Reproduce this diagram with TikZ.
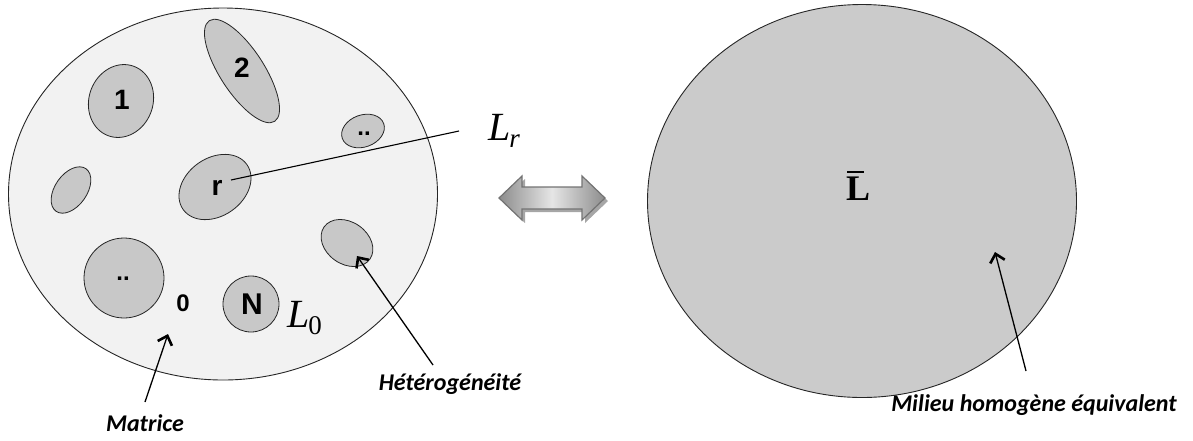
\documentclass[tikz,border=0pt]{standalone}
\usepackage{fontspec}
\setmainfont{Liberation Serif}
\newfontfamily\numfont{Liberation Sans}
\newfontfamily\capfont{Carlito}
\usetikzlibrary{shapes.geometric,arrows.meta}
\definecolor{matfill}{HTML}{F2F2F2}
\definecolor{incfill}{HTML}{C8C8C8}
\definecolor{homfill}{HTML}{CBCBCB}
\tikzset{
  inc/.style={ellipse, draw=black!85, line width=0.8pt, fill=incfill, inner sep=0pt},
  incc/.style={circle, draw=black!85, line width=0.8pt, fill=incfill, inner sep=0pt},
  numlbl/.style={font=\numfont\bfseries\fontsize{28}{28}\selectfont, inner sep=0pt},
  caplbl/.style={font=\capfont\bfseries\itshape\fontsize{24}{24}\selectfont, inner sep=0pt},
  ptr/.style={line width=1.3pt, -{Straight Barb[length=8pt,width=15pt,line width=2.6pt]}},
}
\begin{document}
\begin{tikzpicture}[x=1pt,y=-1pt]
\useasboundingbox (0,0) rectangle (1193,440);
% left heterogeneous medium
\node[ellipse, draw=black!85, line width=0.9pt, fill=matfill, minimum width=429pt, minimum height=372pt, inner sep=0pt] (mat) at (223,194) {};
\node[inc, minimum width=64pt, minimum height=74pt, rotate=-20] (i1) at (121,101) {};
\node[numlbl] at (122,100) {1};
\node[inc, minimum width=44pt, minimum height=120pt, rotate=33] (i2) at (242,71) {};
\node[numlbl] at (242,68) {2};
\node[inc, minimum width=44pt, minimum height=32pt, rotate=20] (i3) at (363,131) {};
\node[numlbl, font=\numfont\bfseries\fontsize{24}{24}\selectfont] at (364,134) {..};
\node[inc, minimum width=32pt, minimum height=52pt, rotate=-35] (i4) at (71,190) {};
\node[inc, minimum width=78pt, minimum height=58pt, rotate=35] (ir) at (215,187) {};
\node[numlbl] (rl) at (217,188) {r};
\node[incc, minimum size=80pt] (i5) at (124,278) {};
\node[numlbl, font=\numfont\bfseries\fontsize{24}{24}\selectfont] at (123,279) {..};
\node[incc, minimum size=56pt] (iN) at (251,304) {};
\node[numlbl, font=\numfont\bfseries\fontsize{30}{30}\selectfont] at (252,304) {N};
\node[inc, minimum width=56pt, minimum height=42pt, rotate=-35] (i6) at (347,243) {};
\node[numlbl, font=\numfont\bfseries\fontsize{24}{24}\selectfont] (zero) at (183,303) {0};
\node[inner sep=0pt, anchor=base west] (L0) at (287,327) {\fontsize{40}{40}\selectfont\itshape L\kern-1pt\raisebox{-7pt}{\upshape\fontsize{27}{27}\selectfont 0}};
\node[inner sep=0pt, anchor=base west] (Lr) at (488,140) {\fontsize{40}{40}\selectfont\itshape L\kern-1pt\raisebox{-7pt}{\fontsize{27}{27}\selectfont r}};
\coordinate (rstart) at (231,180);
\coordinate (rend) at (459,131);
\draw[line width=1.1pt] (rstart) -- (rend);
% double arrow
\coordinate (da) at (552,198);
\fill[black!35] ([shift={(3,3)}]da) ++(-53,0) -- ++(23,-22) -- ++(0,11) -- ++(60,0) -- ++(0,-11) -- ++(23,22) -- ++(-23,22) -- ++(0,-11) -- ++(-60,0) -- ++(0,11) -- cycle;
\draw[draw=black!55, line width=1.2pt, left color=black!45, right color=black!45, middle color=black!10] (da) ++(-53,0) -- ++(23,-22) -- ++(0,11) -- ++(60,0) -- ++(0,-11) -- ++(23,22) -- ++(-23,22) -- ++(0,-11) -- ++(-60,0) -- ++(0,11) -- cycle;
% right homogeneous medium
\node[ellipse, draw=black!85, line width=0.9pt, fill=homfill, minimum width=429pt, minimum height=393pt, inner sep=0pt] (hom) at (862,201) {};
\node[inner sep=0pt, anchor=base] (Lbar) at (858,200) {\fontsize{36}{36}\selectfont\bfseries\rlap{\kern1pt\rule[27pt]{17pt}{1.8pt}}L};
% captions and pointers
\node[caplbl] (matc) at (145,423) {Matrice};
\coordinate (matt) at (145,402);
\coordinate (math) at (168,334);
\draw[ptr] (matt) -- (math);
\node[caplbl] (hetc) at (450,384) {Hétérogénéité};
\coordinate (hett) at (433,365);
\coordinate (heth) at (357,256);
\draw[ptr] (hett) -- (heth);
\node[caplbl] (homc) at (1034,405) {Milieu homogène équivalent};
\coordinate (homt) at (1026,371);
\coordinate (homh) at (995,252);
\draw[ptr] (homt) -- (homh);
\end{tikzpicture}
\end{document}
